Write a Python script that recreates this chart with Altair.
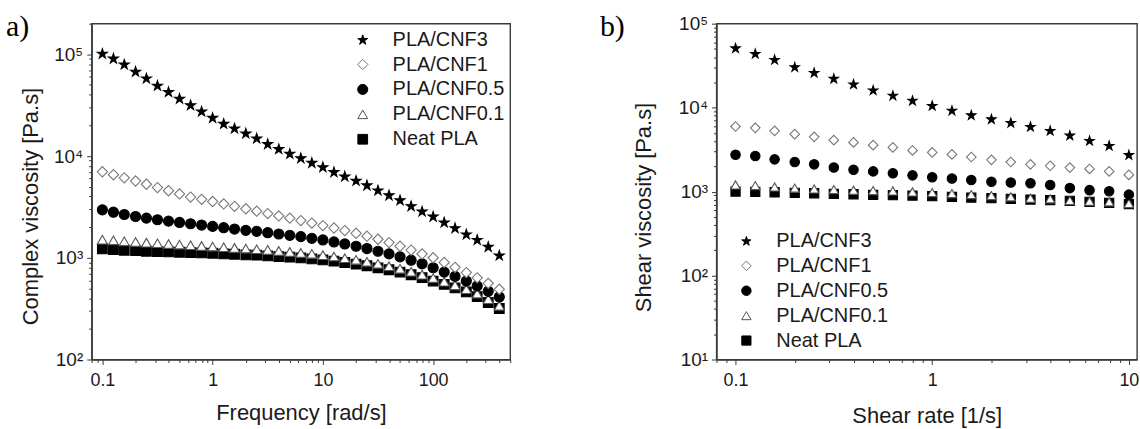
import altair as alt
import pandas as pd

# ---------------- data ----------------
series_order = ["PLA/CNF3", "PLA/CNF1", "PLA/CNF0.5", "PLA/CNF0.1", "Neat PLA"]
draw_order = ["Neat PLA", "PLA/CNF0.1", "PLA/CNF0.5", "PLA/CNF1", "PLA/CNF3"]

# panel a: complex viscosity vs frequency
freq = [0.1, 0.126, 0.158, 0.2, 0.251, 0.316, 0.398, 0.501, 0.631, 0.794,
        1, 1.26, 1.58, 2, 2.51, 3.16, 3.98, 5.01, 6.31, 7.94,
        10, 12.6, 15.8, 20, 25.1, 31.6, 39.8, 50.1, 63.1, 79.4,
        100, 126, 158, 200, 251, 316, 398]
cv_cnf3 = [102000, 91500, 80000, 68000, 58400, 49500, 42900, 36900, 31800, 27600,
           23900, 20900, 18800, 16800, 15000, 13200, 11800, 10600, 9600, 8630,
           7830, 7000, 6350, 5760, 5190, 4630, 4140, 3700, 3240, 2870,
           2560, 2240, 1970, 1710, 1510, 1290, 1060]
cv_cnf1 = [7000, 6550, 6100, 5680, 5280, 4900, 4560, 4240, 3950, 3750,
           3570, 3380, 3200, 3030, 2870, 2720, 2580, 2450, 2320, 2190,
           2070, 1960, 1850, 1740, 1630, 1520, 1410, 1300, 1190, 1090,
           1000, 900, 805, 715, 635, 560, 490]
cv_cnf05 = [2957, 2806, 2663, 2546, 2452, 2362, 2292, 2225, 2159, 2096,
            2034, 1974, 1915, 1859, 1818, 1764, 1712, 1661, 1612, 1552,
            1496, 1430, 1367, 1297, 1231, 1159, 1092, 1020, 946, 872,
            797, 723, 656, 590, 528, 468, 412]
cv_cnf01 = [1507, 1484, 1451, 1430, 1408, 1388, 1367, 1347, 1327, 1307,
            1288, 1269, 1250, 1231, 1212, 1195, 1168, 1142, 1116, 1092,
            1060, 1028, 990, 954, 912, 872, 827, 779, 729, 681,
            632, 582, 536, 490, 444, 391, 337]
cv_neat = [1222, 1204, 1186, 1177, 1159, 1151, 1142, 1133, 1125, 1116,
           1108, 1092, 1083, 1067, 1060, 1044, 1028, 1013, 998, 976,
           954, 926, 898, 866, 834, 797, 762, 723, 681, 637,
           590, 548, 505, 461, 415, 363, 317]

# panel b: shear viscosity vs shear rate
rate = [0.1, 0.126, 0.158, 0.2, 0.251, 0.316, 0.398, 0.501, 0.631, 0.794,
        1, 1.26, 1.58, 2, 2.51, 3.16, 3.98, 5.01, 6.31, 7.94, 10]
sv_cnf3 = [51400, 44100, 37400, 30600, 26200, 22300, 19100, 16200, 14000, 12200,
           10600, 9290, 8190, 7340, 6640, 5960, 5340, 4700, 4060, 3540, 2750]
sv_cnf1 = [5960, 5740, 5290, 4830, 4490, 4100, 3850, 3570, 3360, 3090,
           2930, 2770, 2580, 2390, 2250, 2110, 2030, 1930, 1860, 1740, 1580]
sv_cnf05 = [2750, 2650, 2420, 2250, 2110, 1940, 1820, 1740, 1650, 1560,
            1480, 1430, 1370, 1310, 1280, 1260, 1200, 1100, 1040, 1010, 920]
sv_cnf01 = [1200, 1180, 1135, 1100, 1075, 1056, 1037, 1028, 1019, 991,
            973, 947, 921, 897, 865, 834, 819, 782, 768, 754, 721]
sv_neat = [1000, 991, 982, 964, 955, 938, 929, 912, 905, 897,
           881, 865, 849, 834, 819, 804, 789, 774, 754, 734, 708]

# axis tick values (decades labelled, others minor)
x_ticks_a = [0.08, 0.09, 0.1, 0.2, 0.3, 0.4, 0.5, 0.6, 0.7, 0.8, 0.9,
             1, 2, 3, 4, 5, 6, 7, 8, 9, 10, 20, 30, 40, 50, 60, 70, 80, 90,
             100, 200, 300, 400, 500]
y_ticks_a = [100, 200, 300, 400, 500, 600, 700, 800, 900,
             1000, 2000, 3000, 4000, 5000, 6000, 7000, 8000, 9000,
             10000, 20000, 30000, 40000, 50000, 60000, 70000, 80000, 90000,
             100000, 200000]
x_ticks_b = [0.08, 0.09, 0.1, 0.2, 0.3, 0.4, 0.5, 0.6, 0.7, 0.8, 0.9,
             1, 2, 3, 4, 5, 6, 7, 8, 9, 10]
y_ticks_b = [10, 20, 30, 40, 50, 60, 70, 80, 90,
             100, 200, 300, 400, 500, 600, 700, 800, 900,
             1000, 2000, 3000, 4000, 5000, 6000, 7000, 8000, 9000,
             10000, 20000, 30000, 40000, 50000, 60000, 70000, 80000, 90000,
             100000]

a_series = {"PLA/CNF3": cv_cnf3, "PLA/CNF1": cv_cnf1, "PLA/CNF0.5": cv_cnf05,
            "PLA/CNF0.1": cv_cnf01, "Neat PLA": cv_neat}
b_series = {"PLA/CNF3": sv_cnf3, "PLA/CNF1": sv_cnf1, "PLA/CNF0.5": sv_cnf05,
            "PLA/CNF0.1": sv_cnf01, "Neat PLA": sv_neat}

rows_a = [{"x": f, "y": v, "series": s} for s in draw_order for f, v in zip(freq, a_series[s])]
rows_b = [{"x": f, "y": v, "series": s} for s in draw_order for f, v in zip(rate, b_series[s])]
df_a = pd.DataFrame(rows_a)
df_b = pd.DataFrame(rows_b)

# ---------------- styling ----------------
FONT = "Liberation Sans"
STAR = ("M0,-0.905L0.2245,-0.214L0.9511,-0.214L0.3633,0.213L0.5878,0.904"
        "L0,0.477L-0.5878,0.904L-0.3633,0.213L-0.9511,-0.214L-0.2245,-0.214Z")
shape_range = [STAR, "diamond", "circle", "triangle-up", "square"]
fill_range = ["black", "white", "black", "white", "black"]
stroke_range = ["black", "#777777", "black", "#555555", "black"]
size_range_a = [110, 95, 62, 88, 44]
size_range_b = [95, 85, 56, 80, 38]

DEC = "abs(log(datum.value)/LN10 - round(log(datum.value)/LN10)) < 0.001"
YLAB = DEC + " ? '10' + ['\u2070','\u00b9','\u00b2','\u00b3','\u2074','\u2075','\u2076'][round(log(datum.value)/LN10)] : ''"
XLAB = DEC + " ? format(datum.value, '~g') : ''"
TICK = {"condition": {"test": DEC, "value": 5}, "value": 3}
AXC = "#3a3a3a"
TXT = "#1a1a1a"


def x_axis(title, values, title_y):
    return alt.Axis(title=title, values=values, labelExpr=XLAB, tickSize=TICK,
                    labelPadding=7, labelFontSize=18, labelFont=FONT, labelColor=TXT,
                    titleFontSize=22, titleFont=FONT, titleFontWeight="normal",
                    titleColor=TXT, titleY=title_y, titleBaseline="alphabetic",
                    grid=False, labelFlush=False, labelOverlap=False,
                    domainColor=AXC, domainWidth=1.4, tickColor=AXC, tickWidth=1)


def y_axis(title, values, title_x, title_y):
    return alt.Axis(title=title, values=values, labelExpr=YLAB, tickSize=TICK,
                    labelPadding=4, labelFontSize=19, labelFont=FONT, labelColor=TXT,
                    titleFontSize=22, titleFont=FONT, titleFontWeight="normal",
                    titleColor=TXT, titleX=title_x, titleY=title_y, titleAngle=270,
                    titleAlign="center", titleBaseline="middle",
                    grid=False, labelFlush=False, labelOverlap=False,
                    domainColor=AXC, domainWidth=1.4, tickColor=AXC, tickWidth=1)


def legend(lx, ly):
    return alt.Legend(title=None, orient="none", legendX=lx, legendY=ly,
                      labelFontSize=20, labelFont=FONT, labelColor=TXT,
                      labelOffset=20, rowPadding=5, padding=0,
                      symbolStrokeWidth=1, labelLimit=0)


def panel(df, xdom, ydom, xaxis, yaxis, lx, ly, tag, tag_x, w, h, sizes):
    lg = legend(lx, ly)
    pts = alt.Chart(df).mark_point(opacity=1, strokeWidth=1.1).encode(
        x=alt.X("x:Q", scale=alt.Scale(type="log", domain=xdom, nice=False), axis=xaxis),
        y=alt.Y("y:Q", scale=alt.Scale(type="log", domain=ydom, nice=False), axis=yaxis),
        shape=alt.Shape("series:N", scale=alt.Scale(domain=series_order, range=shape_range), legend=lg),
        fill=alt.Fill("series:N", scale=alt.Scale(domain=series_order, range=fill_range), legend=lg),
        stroke=alt.Stroke("series:N", scale=alt.Scale(domain=series_order, range=stroke_range), legend=lg),
        size=alt.Size("series:N", scale=alt.Scale(domain=series_order, range=sizes), legend=lg),
    )
    txt = alt.Chart(pd.DataFrame({"t": [tag]})).mark_text(
        font="Liberation Serif", fontSize=30, align="left", baseline="middle", color="black"
    ).encode(x=alt.value(tag_x), y=alt.value(3), text="t:N")
    return alt.layer(pts, txt).properties(width=w, height=h)


pa = panel(df_a, [0.08, 500], [100, 200000],
           x_axis("Frequency [rad/s]", x_ticks_a, 60),
           y_axis("Complex viscosity [Pa.s]", y_ticks_a, -61, 183),
           262, 6, "a)", -86, 420, 337, size_range_a)
pb = panel(df_b, [0.08, 11], [10, 100000],
           x_axis("Shear rate [1/s]", x_ticks_b, 63),
           y_axis("Shear viscosity [Pa.s]", y_ticks_b, -73, 184),
           20, 208, "b)", -117, 422, 337, size_range_b)

chart = alt.hconcat(pa, pb, spacing=87).resolve_scale(
    shape="independent", fill="independent", stroke="independent", size="independent"
).resolve_legend(
    shape="independent", fill="independent", stroke="independent", size="independent"
).properties(
    padding={"left": 5, "top": 10, "right": 0, "bottom": 0},
    background="white",
).configure_view(stroke=AXC, strokeWidth=1.4)

chart.save("out.html", embed_options={"renderer": "svg", "actions": False})
